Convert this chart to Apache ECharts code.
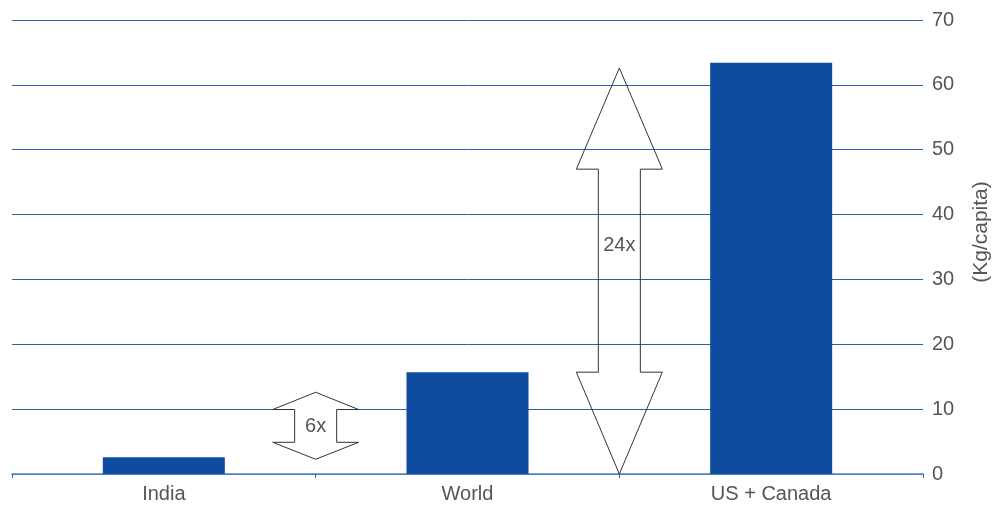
<!DOCTYPE html>
<html>
<head>
<meta charset="utf-8">
<script src="https://cdn.jsdelivr.net/npm/echarts@6/dist/echarts.min.js"></script>
<style>html,body{margin:0;padding:0;background:#fff}#c{width:1000px;height:506px}</style>
</head>
<body>
<div id="c"></div>
<script>
const categories = ['India', 'World', 'US + Canada'];
const values = [2.6, 15.7, 63.4];
const yTicks = [0, 10, 20, 30, 40, 50, 60, 70];
// double arrows placed at category boundaries (position on a 0..3 scale)
const arrowX = [1, 2];
const arrowTip = [12.6, 62.6];
const arrowTopBase = [9.94, 47.0];
const arrowBottomBase = [4.89, 15.7];
const arrowEnd = [2.27, 0];
const arrowLabel = ['6x', '24x'];
const arrowLabelY = [7.4, 35.3];

const FONT = "'Liberation Sans', Arial, sans-serif";
const chart = echarts.init(document.getElementById('c'));
chart.setOption({
  animation: false,
  grid: { left: 12, right: 77, top: 20, bottom: 32, containLabel: false },
  xAxis: [{
    type: 'category',
    data: categories,
    axisLine: { lineStyle: { color: '#5b85c4', width: 1.5 } },
    axisTick: { show: true, length: 4, lineStyle: { color: '#2a62b0' } },
    axisLabel: { color: '#555', fontSize: 20, fontFamily: FONT, margin: 10 }
  }, {
    type: 'value', min: 0, max: 3, show: false
  }],
  yAxis: {
    type: 'value',
    position: 'right',
    min: yTicks[0], max: yTicks[yTicks.length - 1], interval: 10,
    name: '(Kg/capita)',
    nameLocation: 'middle',
    nameRotate: 90,
    nameGap: 48,
    nameTextStyle: { color: '#555', fontSize: 21, fontFamily: FONT, padding: [0, 0, 0, 30] },
    axisLine: { show: false },
    axisTick: { show: true, length: 2, lineStyle: { color: '#2a62b0' } },
    axisLabel: { color: '#555', fontSize: 20, fontFamily: FONT, margin: 9 },
    splitLine: { lineStyle: { color: '#2a62b0', width: 1 } }
  },
  series: [{
    type: 'bar',
    data: values,
    barWidth: 122,
    itemStyle: { color: '#0d4c9e' },
    z: 2
  }, {
    type: 'custom',
    xAxisIndex: 1,
    z: 5,
    data: arrowX.map((x, i) => [x, arrowTip[i], arrowTopBase[i], arrowBottomBase[i], arrowEnd[i], arrowLabelY[i], i]),
    renderItem: function (params, api) {
      const x = api.value(0);
      const i = api.value(6);
      const tip = api.coord([x, api.value(1)]);
      const tb = api.coord([x, api.value(2)]);
      const bb = api.coord([x, api.value(3)]);
      const end = api.coord([x, api.value(4)]);
      const lab = api.coord([x, api.value(5)]);
      const cx = tip[0], hw = 43, sw = 21;
      const pts = [
        [cx, tip[1]], [cx + hw, tb[1]], [cx + sw, tb[1]], [cx + sw, bb[1]], [cx + hw, bb[1]],
        [cx, end[1]], [cx - hw, bb[1]], [cx - sw, bb[1]], [cx - sw, tb[1]], [cx - hw, tb[1]]
      ];
      return {
        type: 'group',
        children: [{
          type: 'polygon',
          shape: { points: pts },
          style: { fill: i === 0 ? '#fff' : 'none', stroke: '#333', lineWidth: 1 }
        }, {
          type: 'text',
          x: cx, y: lab[1],
          style: { text: arrowLabel[i], fill: '#555', fontSize: 20, fontFamily: FONT, align: 'center', verticalAlign: 'middle' }
        }]
      };
    }
  }]
});
</script>
</body>
</html>
